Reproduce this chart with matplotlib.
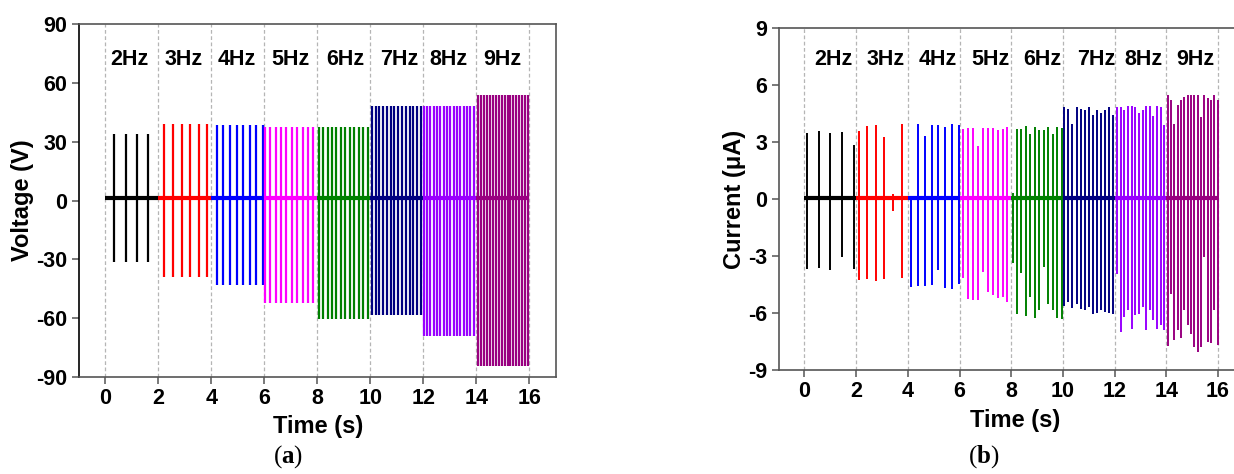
import numpy as np
import matplotlib
matplotlib.use("Agg")
import matplotlib.pyplot as plt


plt.rcParams["font.family"] = ["Liberation Sans", "DejaVu Sans"]
plt.rcParams["axes.unicode_minus"] = False
plt.rcParams["mathtext.fontset"] = "custom"
plt.rcParams["mathtext.rm"] = "Liberation Serif"
plt.rcParams["mathtext.bf"] = "Liberation Serif:bold"

FREQ_LABELS = ["2Hz", "3Hz", "4Hz", "5Hz", "6Hz", "7Hz", "8Hz", "9Hz"]
SEGMENT_COLORS = ["#000000", "#ff0000", "#0000ff", "#ff00ff",
                  "#008000", "#000080", "#9900ff", "#990080"]
SEGMENT_EDGES = [0, 2, 4, 6, 8, 10, 12, 14, 16]

# panel (a): voltage, one peak pair per frequency block
V_PULSE_COUNT = [4, 6, 8, 10, 12, 14, 16, 18]
V_FIRST_PULSE = [0.34, 2.23, 4.21, 6.02, 8.05, 10.06, 12.02, 14.08]
V_LAST_PULSE = [1.63, 3.85, 5.95, 7.85, 9.90, 11.91, 13.90, 15.95]
V_POS_PEAK = [34.0, 39.0, 38.5, 37.5, 37.5, 48.0, 48.0, 54.0]
V_NEG_PEAK = [-31.5, -39.0, -43.0, -52.5, -60.5, -58.5, -69.0, -84.5]
V_BASELINE = 1.5

# panel (b): current, peaks read pulse by pulse
I_FIRST_PULSE = [0.09, 2.09, 4.13, 6.15, 8.05, 10.05, 12.10, 14.05]
I_LAST_PULSE = [1.90, 3.76, 5.97, 7.85, 9.95, 11.95, 13.92, 15.98]
I_POS_PEAK = [
    [3.50, 3.60, 3.46, 3.52, 2.83],
    [3.59, 3.85, 3.92, 3.29, 0.27, 3.94],
    [0.15, 3.98, 3.32, 3.92, 3.90, 3.81, 3.95, 3.90],
    [3.67, 3.74, 3.74, 2.81, 3.74, 3.76, 3.72, 3.64, 3.67, 3.78],
    [0.30, 3.69, 3.67, 3.83, 3.41, 3.81, 3.64, 3.64, 3.78, 3.41, 3.78, 3.75],
    [4.83, 4.72, 3.95, 4.83, 4.76, 4.69, 4.83, 4.42, 4.69, 4.55, 4.69, 4.83, 4.42],
    [4.87, 4.87, 4.69, 4.90, 4.90, 4.83, 4.55, 4.69, 4.90, 4.90, 4.37, 4.90, 4.87, 3.90],
    [5.48, 5.22, 3.95, 4.95, 5.22, 5.39, 5.48, 5.48, 5.48, 5.48, 4.34, 5.48, 5.30,
     5.22, 5.48, 5.20],
]
I_NEG_PEAK = [
    [-3.70, -3.65, -3.74, -3.07, -3.70],
    [-4.27, -4.23, -4.30, -4.23, -0.62, -4.18],
    [-4.62, -4.60, -4.58, -4.55, -3.74, -4.71, -4.76, -4.48],
    [-4.18, -5.29, -5.33, -5.33, -3.87, -4.89, -5.06, -5.24, -5.18, -5.41],
    [-3.39, -6.06, -3.92, -6.15, -5.18, -6.26, -5.85, -3.60, -5.54, -5.85, -6.27, -6.30],
    [-5.66, -5.43, -5.73, -5.52, -5.79, -5.87, -5.70, -6.04, -6.01, -5.87, -5.95, -6.01, -6.04],
    [-3.93, -7.00, -6.22, -5.87, -6.84, -6.13, -6.04, -5.69, -6.92, -5.87, -6.40, -6.84,
     -6.66, -6.90],
    [-7.77, -4.99, -7.45, -6.89, -7.31, -5.87, -6.66, -7.13, -7.80, -8.07, -7.80, -3.05,
     -7.53, -7.60, -5.87, -7.70],
]
I_BASELINE = 0.05

V_LABEL_X = [0.9, 2.95, 4.95, 7.0, 9.05, 11.1, 12.95, 15.0]
I_LABEL_X = [1.1, 3.12, 5.15, 7.18, 9.21, 11.28, 13.1, 15.13]


def style_axes(ax, yticks, ylabel, left_color):
    """
    Frame, ticks and dashed separators shared by both panels.
    """

    ax.set_xlim(-1, 17)
    ax.set_xticks(SEGMENT_EDGES)
    ax.set_yticks(yticks)
    ax.set_ylim(yticks[0], yticks[-1])

    for x in SEGMENT_EDGES:
        ax.axvline(x, color="#b5b5b5", lw=0.9, ls=(0, (3, 2)), zorder=0)

    for name, spine in ax.spines.items():
        spine.set_linewidth(1.2)
        spine.set_color("#555555")
    ax.spines["left"].set_color(left_color)

    ax.tick_params(direction="out", length=5, width=1.1, color="#555555",
                   labelsize=15.5, pad=3)
    for label in ax.get_xticklabels() + ax.get_yticklabels():
        label.set_fontweight("bold")

    ax.set_xlabel("Time (s)", fontsize=17, fontweight="bold")
    ax.set_ylabel(ylabel, fontsize=17, fontweight="bold")


def draw_block(ax, start, end, times, pos, neg, baseline, color, lw):
    """
    One frequency block: baseline trace plus one vertical spike per pulse.
    """

    ax.plot([start, end], [baseline, baseline], color=color, lw=3.0,
            solid_capstyle="butt", zorder=2)
    ax.vlines(times, neg, pos, color=color, lw=lw, zorder=3)


fig = plt.figure(figsize=(12.34, 4.74), dpi=100)

# (a) voltage
ax_v = fig.add_axes([0.0638, 0.2046, 0.3866, 0.7447])
for i in range(len(FREQ_LABELS)):
    times = np.linspace(V_FIRST_PULSE[i], V_LAST_PULSE[i], V_PULSE_COUNT[i])
    draw_block(ax_v, SEGMENT_EDGES[i], SEGMENT_EDGES[i + 1], times,
               V_POS_PEAK[i], V_NEG_PEAK[i], V_BASELINE, SEGMENT_COLORS[i], 1.6)
    ax_v.text(V_LABEL_X[i], 72, FREQ_LABELS[i], ha="center", va="center",
              fontsize=15.5, fontweight="bold")
style_axes(ax_v, [-90, -60, -30, 0, 30, 60, 90], "Voltage (V)", "#000000")
ax_v.yaxis.set_label_coords(-0.094, 0.5)
ax_v.xaxis.set_label_coords(0.502, -0.108)

# (b) current
ax_i = fig.add_axes([0.6310, 0.2200, 0.3770, 0.7203])
for i in range(len(FREQ_LABELS)):
    times = np.linspace(I_FIRST_PULSE[i], I_LAST_PULSE[i], len(I_POS_PEAK[i]))
    draw_block(ax_i, SEGMENT_EDGES[i], SEGMENT_EDGES[i + 1], times,
               I_POS_PEAK[i], I_NEG_PEAK[i], I_BASELINE, SEGMENT_COLORS[i], 1.4)
    ax_i.text(I_LABEL_X[i], 7.33, FREQ_LABELS[i], ha="center", va="center",
              fontsize=15.5, fontweight="bold")
style_axes(ax_i, [-9, -6, -3, 0, 3, 6, 9], "Current (\u03bcA)", "#555555")
ax_i.yaxis.set_label_coords(-0.070, 0.5)
ax_i.xaxis.set_label_coords(0.508, -0.116)

fig.text(0.2338, 0.036, r"($\mathbf{a}$)", ha="center", va="center",
         fontsize=18, family="Liberation Serif")
fig.text(0.7974, 0.036, r"($\mathbf{b}$)", ha="center", va="center",
         fontsize=18, family="Liberation Serif")

fig.savefig("out.png", dpi=100)
